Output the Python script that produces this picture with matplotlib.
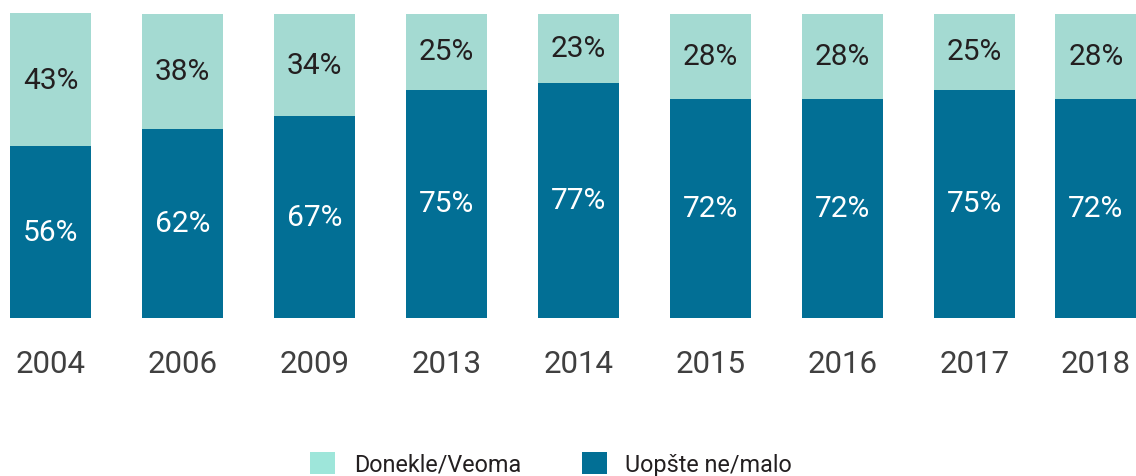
import numpy as np
import matplotlib
matplotlib.use("Agg")
import matplotlib.pyplot as plt
from matplotlib.patches import Patch

# data
years = ["2004", "2006", "2009", "2013", "2014", "2015", "2016", "2017", "2018"]
low_share = [56, 62, 67, 75, 77, 72, 72, 75, 72]    # Uopšte ne/malo
high_share = [43, 38, 34, 25, 23, 28, 28, 25, 28]   # Donekle/Veoma
series_names = ["Donekle/Veoma", "Uopšte ne/malo"]

# colours
dark_blue = "#026f95"
light_teal = "#a4dad2"
legend_teal = "#9ee6da"
text_dark = "#231f20"
year_grey = "#404040"

plt.rcParams["font.family"] = ["Roboto", "DejaVu Sans"]

fig = plt.figure(figsize=(11.36, 4.77), dpi=100)
ax = fig.add_axes([0, 1 - 318.5 / 477, 1, 318.5 / 477])

x = np.arange(len(years), dtype=float)
x[-1] -= 0.08  # last bar sits a little closer in the original
bar_w = 0.614

low = np.array(low_share, dtype=float)
high = np.array(high_share, dtype=float)
# bars are stacked to 100 % (labels are rounded)
total = low + high
low_h = low / total * 100
high_h = high / total * 100
ax.bar(x, low_h, width=bar_w, color=dark_blue, linewidth=0)
ax.bar(x, high_h, width=bar_w, bottom=low_h, color=light_teal, linewidth=0)

for xi, lo, hi, lh, hh in zip(x, low_share, high_share, low_h, high_h):
    ax.text(xi, lh / 2, f"{lo}%", ha="center", va="center",
            color="white", fontsize=21.5)
    ax.text(xi, lh + hh / 2, f"{hi}%", ha="center", va="center",
            color=text_dark, fontsize=21.5)

ax.set_xlim(-50.5 / 132, -50.5 / 132 + 1136 / 132)
ax.set_ylim(0, 100 * 318.5 / 304)
ax.set_xticks(x)
ax.set_xticklabels(years, fontsize=22.5, color=year_grey)
ax.tick_params(axis="x", length=0, pad=23)
ax.set_yticks([])
for spine in ax.spines.values():
    spine.set_visible(False)
ax.patch.set_alpha(0)

handles = [Patch(facecolor=legend_teal, edgecolor="none"),
           Patch(facecolor=dark_blue, edgecolor="none")]
leg = fig.legend(handles, series_names, loc="lower center",
                 bbox_to_anchor=(551 / 1136, 0.0), ncol=2, frameon=False,
                 fontsize=16.8, handlelength=1.1, handleheight=1.1,
                 handletextpad=0.78, columnspacing=2.6,
                 borderpad=0, borderaxespad=0)
for t in leg.get_texts():
    t.set_color(text_dark)

fig.savefig("out.png", dpi=100)
